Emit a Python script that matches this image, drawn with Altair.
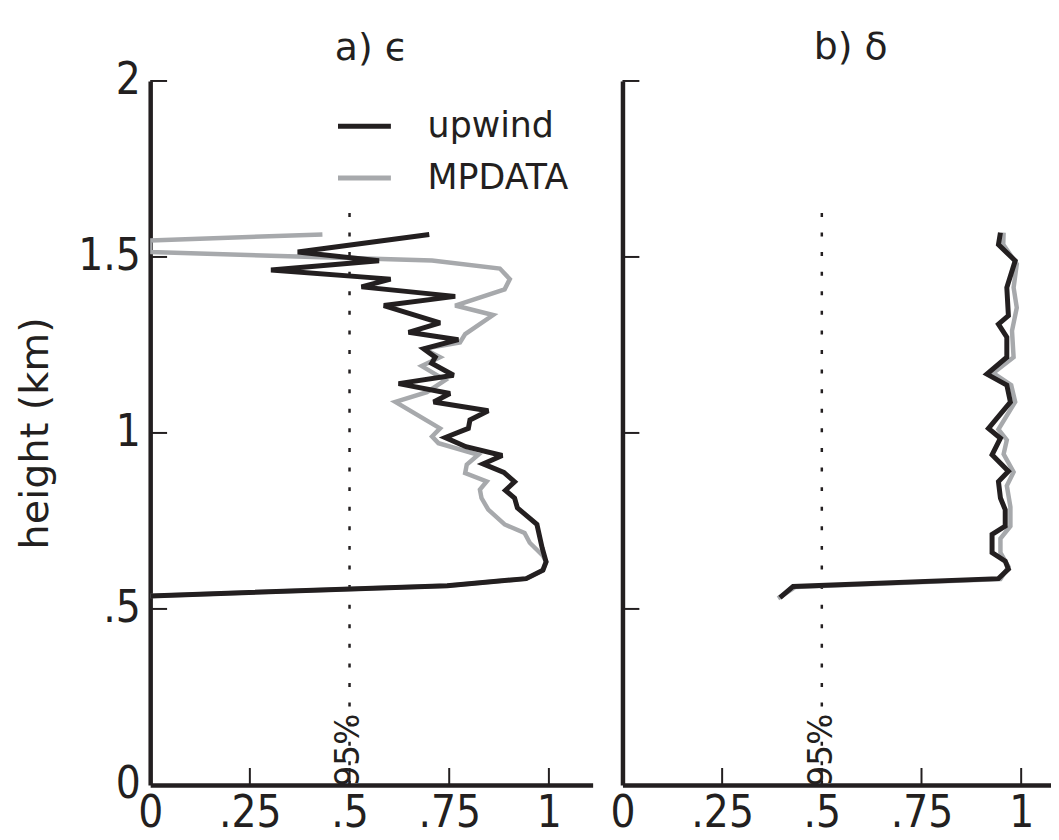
import altair as alt
import pandas as pd

# ---------------- data ----------------
# panel a) epsilon
a_up_x = [0.70, 0.37, 0.574, 0.303, 0.603, 0.530, 0.765, 0.586, 0.727, 0.648, 0.773, 0.686, 0.715,
          0.706, 0.761, 0.623, 0.752, 0.711, 0.848, 0.802, 0.798, 0.740, 0.792, 0.883, 0.835, 0.887,
          0.914, 0.891, 0.914, 0.921, 0.970, 0.983, 0.993, 0.985, 0.943, 0.745, 0.0]
a_up_h = [1.564, 1.514, 1.489, 1.463, 1.437, 1.415, 1.388, 1.362, 1.313, 1.286, 1.265, 1.239, 1.215,
          1.198, 1.164, 1.140, 1.112, 1.088, 1.063, 1.037, 1.013, 0.987, 0.961, 0.936, 0.912, 0.888,
          0.861, 0.837, 0.815, 0.787, 0.740, 0.674, 0.634, 0.610, 0.586, 0.566, 0.537]
a_mp_x = [0.432, 0.0, 0.0, 0.707, 0.877, 0.902, 0.889, 0.765, 0.860, 0.790, 0.777, 0.686, 0.727,
          0.681, 0.740, 0.694, 0.615, 0.727, 0.707, 0.723, 0.823, 0.794, 0.790, 0.844, 0.827, 0.831,
          0.848, 0.889, 0.939, 0.952, 0.985, 0.993, 0.985, 0.943, 0.745, 0.0]
a_mp_h = [1.564, 1.547, 1.514, 1.490, 1.467, 1.437, 1.408, 1.362, 1.335, 1.281, 1.257, 1.239, 1.215,
          1.190, 1.150, 1.116, 1.088, 1.013, 0.990, 0.971, 0.938, 0.910, 0.886, 0.862, 0.839, 0.815,
          0.782, 0.740, 0.716, 0.688, 0.651, 0.634, 0.610, 0.586, 0.566, 0.537]

# panel b) delta
b_up_x = [0.948, 0.943, 0.985, 0.964, 0.968, 0.943, 0.964, 0.964, 0.914, 0.964, 0.973, 0.918, 0.948,
          0.927, 0.968, 0.943, 0.948, 0.960, 0.960, 0.927, 0.927, 0.960, 0.968, 0.943, 0.428, 0.395]
b_up_h = [1.569, 1.535, 1.489, 1.413, 1.333, 1.309, 1.272, 1.215, 1.167, 1.136, 1.088, 1.013, 0.985,
          0.938, 0.891, 0.862, 0.815, 0.782, 0.735, 0.712, 0.660, 0.636, 0.613, 0.586, 0.564, 0.532]
b_mp_x = [0.956, 0.955, 0.989, 0.981, 0.989, 0.977, 0.981, 0.930, 0.975, 0.985, 0.943, 0.964, 0.956,
          0.981, 0.964, 0.973, 0.973, 0.948, 0.948, 0.968, 0.948, 0.433, 0.390]
b_mp_h = [1.569, 1.535, 1.480, 1.413, 1.356, 1.290, 1.215, 1.170, 1.136, 1.088, 1.010, 0.980, 0.940,
          0.889, 0.850, 0.790, 0.735, 0.700, 0.660, 0.620, 0.585, 0.562, 0.530]

series_names = ["upwind", "MPDATA"]
x_tick_values = [0, 0.25, 0.5, 0.75, 1]
y_tick_values = [0, 0.5, 1, 1.5, 2]
inner_x_ticks = [0.25, 0.5, 0.75, 1]
inner_y_ticks = [0.5, 1, 1.5, 2]
threshold_x = [0.5]
threshold_bottom = [0.0]
threshold_top = [1.63]
threshold_label = ["95%"]
threshold_label_h = [0.116]
panel_titles = ["a) \u03f5", "b) \u03b4"]

# ---------------- styling ----------------
INK = "#231f20"
GRAY = "#a7a9ac"
H = 708
LABEL_FONT = "DejaVu Sans Condensed, DejaVu Sans"
TEXT_FONT = "DejaVu Sans"

label_expr = ("datum.value == 0 ? '0' : (datum.value < 1 ? substring(toString(datum.value), 1) "
              ": toString(datum.value))")

color_scale = alt.Scale(domain=series_names, range=[INK, GRAY])


def series_df(xs, hs, name):
    return pd.DataFrame({"x": xs, "h": hs, "series": name, "i": list(range(len(xs)))})


def panel(up_x, up_h, mp_x, mp_h, xmax, width, title, first, title_dx, title_offset):
    xs = alt.Scale(domain=[0, xmax], nice=False, zero=False)
    ys = alt.Scale(domain=[0, 2], nice=False)
    xaxis = alt.Axis(values=x_tick_values, labelExpr=label_expr, ticks=False, grid=False,
                     title=None, domainWidth=4.5, domainColor=INK, labelPadding=7,
                     labelFont=LABEL_FONT, labelFontSize=44, labelColor=INK,
                     labelFlush=False, labelOverlap=False)
    if first:
        yaxis = alt.Axis(values=y_tick_values, labelExpr=label_expr, ticks=False, grid=False,
                         title="height (km)", titleFont=TEXT_FONT, titleFontSize=40,
                         titleFontWeight="normal", titleColor=INK, titlePadding=22,
                         domainWidth=4.5, domainColor=INK, labelPadding=10,
                         labelFont=LABEL_FONT, labelFontSize=44, labelColor=INK,
                         labelFlush=False, labelOverlap=False)
        legend = alt.Legend(title=None, orient="none", legendX=194, legendY=24,
                            symbolType="M-1.4,0L1.4,0", symbolSize=1444,
                            symbolStrokeWidth=5, labelFont=TEXT_FONT, labelFontSize=35,
                            labelColor=INK, labelOffset=42, rowPadding=12, padding=0)
    else:
        yaxis = alt.Axis(values=y_tick_values, labels=False, ticks=False, grid=False,
                         title=None, domainWidth=4.5, domainColor=INK)
        legend = None

    df = pd.concat([series_df(mp_x, mp_h, "MPDATA"), series_df(up_x, up_h, "upwind")],
                   ignore_index=True)

    def line_layer(name, sw):
        return alt.Chart(df).transform_filter(alt.datum.series == name).mark_line(
            strokeWidth=sw, clip=True, strokeJoin="miter", strokeMiterLimit=3
        ).encode(
            x=alt.X("x:Q", scale=xs, axis=xaxis),
            y=alt.Y("h:Q", scale=ys, axis=yaxis),
            color=alt.Color("series:N", scale=color_scale, legend=legend),
            order=alt.Order("i:Q"),
        )

    thr = pd.DataFrame({"x": threshold_x, "lo": threshold_bottom, "hi": threshold_top})
    rule = alt.Chart(thr).mark_rule(color=INK, strokeWidth=2.5, strokeDash=[4, 15.7]).encode(
        x=alt.X("x:Q", scale=xs, axis=xaxis),
        y=alt.Y("lo:Q", scale=ys, axis=yaxis),
        y2="hi:Q",
    )
    lab = pd.DataFrame({"x": threshold_x, "h": threshold_label_h, "t": threshold_label})
    text = alt.Chart(lab).mark_text(angle=270, fontSize=33, font=TEXT_FONT, color=INK,
                                    align="center", baseline="middle", dx=-6).encode(
        x=alt.X("x:Q", scale=xs, axis=xaxis),
        y=alt.Y("h:Q", scale=ys, axis=yaxis),
        text="t:N",
    )
    yt = alt.Chart(pd.DataFrame({"v": inner_y_ticks})).mark_rule(color=INK, strokeWidth=2).encode(
        y=alt.Y("v:Q", scale=ys, axis=yaxis),
        x=alt.value(0),
        x2=alt.value(17),
    )
    xt = alt.Chart(pd.DataFrame({"v": inner_x_ticks})).mark_rule(color=INK, strokeWidth=2).encode(
        x=alt.X("v:Q", scale=xs, axis=xaxis),
        y=alt.value(H),
        y2=alt.value(H - 17),
    )
    return alt.layer(rule, text, yt, xt, line_layer("MPDATA", 4.5), line_layer("upwind", 5)).properties(
        width=width, height=H,
        title=alt.TitleParams(title, font=TEXT_FONT, fontSize=38, fontWeight="normal",
                              color=INK, offset=title_offset, frame="group", dx=title_dx),
    )


pa = panel(a_up_x, a_up_h, a_mp_x, a_mp_h, 445 / 401, 445, panel_titles[0], True, 0, -9)
pb = panel(b_up_x, b_up_h, b_mp_x, b_mp_h, 431 / 401, 431, panel_titles[1], False, 14, 13)

chart = alt.hconcat(pa, pb, spacing=17).resolve_scale(x="independent", color="independent") \
    .resolve_legend(color="independent").properties(
        padding={"left": 8, "top": 19, "right": 0, "bottom": 0}
    ).configure_view(stroke=None).configure_axis(grid=False)

chart.save("out.html", embed_options={"renderer": "svg", "actions": False})
